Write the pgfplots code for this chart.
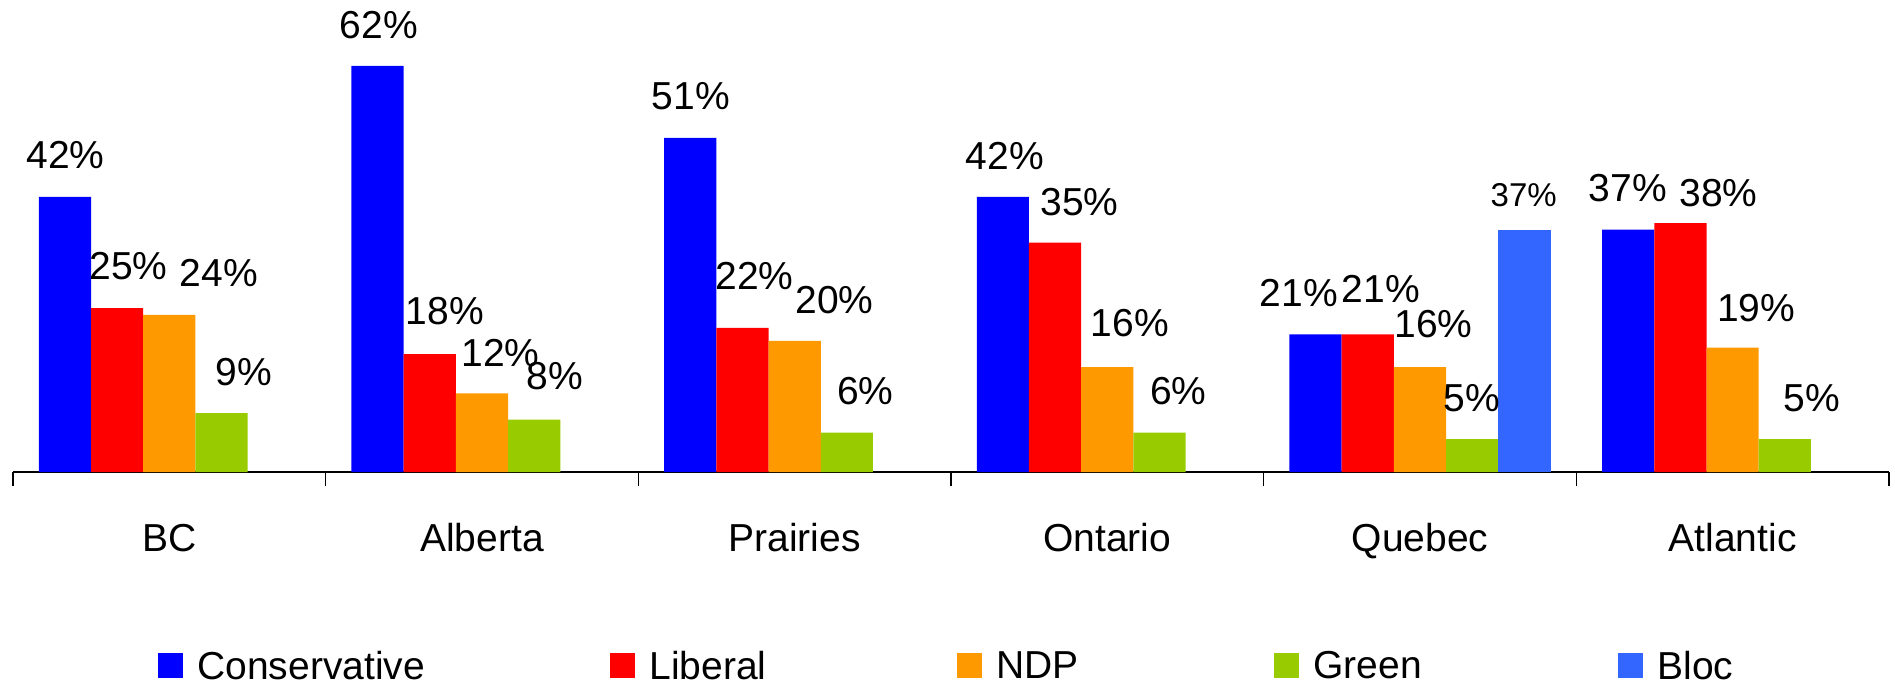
\documentclass[border=0pt]{standalone}
\usepackage{pgfplots}
\pgfplotsset{compat=1.18}
\usepackage{pgfplotstable}
\usepackage{fontspec}
\setmainfont{Liberation Sans}

\definecolor{cons}{HTML}{0000FF}
\definecolor{lib}{HTML}{FF0000}
\definecolor{ndp}{HTML}{FF9900}
\definecolor{grn}{HTML}{99CC00}
\definecolor{bloc}{HTML}{3366FF}

\newcommand{\bigf}{\fontsize{39bp}{47bp}\selectfont}
\newcommand{\smallf}{\fontsize{33bp}{40bp}\selectfont}

% regions: 0 BC, 1 Alberta, 2 Prairies, 3 Ontario, 4 Quebec, 5 Atlantic
\pgfplotstableread{
cat cons lib ndp green
0   42   25  24  9
1   62   18  12  8
2   51   22  20  6
3   42   35  16  6
4   21   21  16  5
5   37   38  19  5
}\votes

\begin{document}
\begin{tikzpicture}
\useasboundingbox (0,0) rectangle (1895bp,684bp);
\begin{axis}[
    at={(13bp,212bp)}, anchor=south west,
    scale only axis, width=1876bp, height=458.5bp,
    xmin=-0.5, xmax=5.5, ymin=0, ymax=70,
    axis x line=bottom, axis y line=none,
    x axis line style={-, line width=2bp},
    xtick={0,...,5},
    xticklabels={BC,Alberta,Prairies,Ontario,Quebec,Atlantic},
    minor xtick={-0.5,0.5,1.5,2.5,3.5,4.5,5.5},
    tick align=outside, major tick length=0pt, minor tick length=14bp,
    minor x tick style={line width=1.5bp, black},
    xticklabel style={anchor=base, inner sep=0pt, yshift=-79bp},
    font=\bigf, clip=false,
    bar width=0.167,
    legend columns=5, legend cell align=left,
    legend style={draw=none, fill=none, inner sep=0pt, outer sep=0pt,
        at={(0.0775,-0.423)}, anchor=west, font=\bigf,
        nodes={inner sep=0pt},
        /tikz/every odd column/.append style={column sep=14bp},
        /tikz/every even column/.append style={column sep=0pt}},
    legend image code/.code={\fill[#1] (0bp,-12.5bp) rectangle (25bp,12.5bp);},
]
\addplot[ybar, bar shift=-0.334, fill=cons, draw=none] table[x=cat, y=cons] {\votes};
\addlegendentry{\makebox[413bp][l]{Conservative}}
\addplot[ybar, bar shift=-0.167, fill=lib, draw=none] table[x=cat, y=lib] {\votes};
\addlegendentry{\makebox[308bp][l]{Liberal}}
\addplot[ybar, bar shift=0, fill=ndp, draw=none] table[x=cat, y=ndp] {\votes};
\addlegendentry{\makebox[278bp][l]{NDP}}
\addplot[ybar, bar shift=0.167, fill=grn, draw=none] table[x=cat, y=green] {\votes};
\addlegendentry{\makebox[305bp][l]{Green}}
\addplot[ybar, bar shift=0.334, fill=bloc, draw=none] coordinates {(4,37)};
\addlegendentry{Bloc}

% value labels, placed where the reference puts them
\addplot[draw=none, mark=none, forget plot, nodes near coords,
    point meta=explicit symbolic,
    every node near coord/.append style={anchor=center, inner sep=0pt, font=\bigf}]
coordinates {
(-0.332,48.4) [42\%] (-0.131,31.5) [25\%] (0.158,30.4) [24\%] (0.238,15.2) [9\%]
(0.670,68.2) [62\%] (0.881,24.5) [18\%] (1.059,18.2) [12\%] (1.232,14.6) [8\%]
(1.668,57.4) [51\%] (1.872,29.9) [22\%] (2.127,26.3) [20\%] (2.226,12.3) [6\%]
(2.672,48.3) [42\%] (2.911,41.2) [35\%] (3.072,22.7) [16\%] (3.227,12.3) [6\%]
(3.613,27.4) [21\%] (3.875,28.0) [21\%] (4.043,22.6) [16\%] (4.167,11.3) [5\%]
(4.332,42.2) [{\smallf 37\%}]
(4.665,43.3) [37\%] (4.955,42.6) [38\%] (5.075,25.1) [19\%] (5.254,11.3) [5\%]
};
\end{axis}
\end{tikzpicture}
\end{document}
